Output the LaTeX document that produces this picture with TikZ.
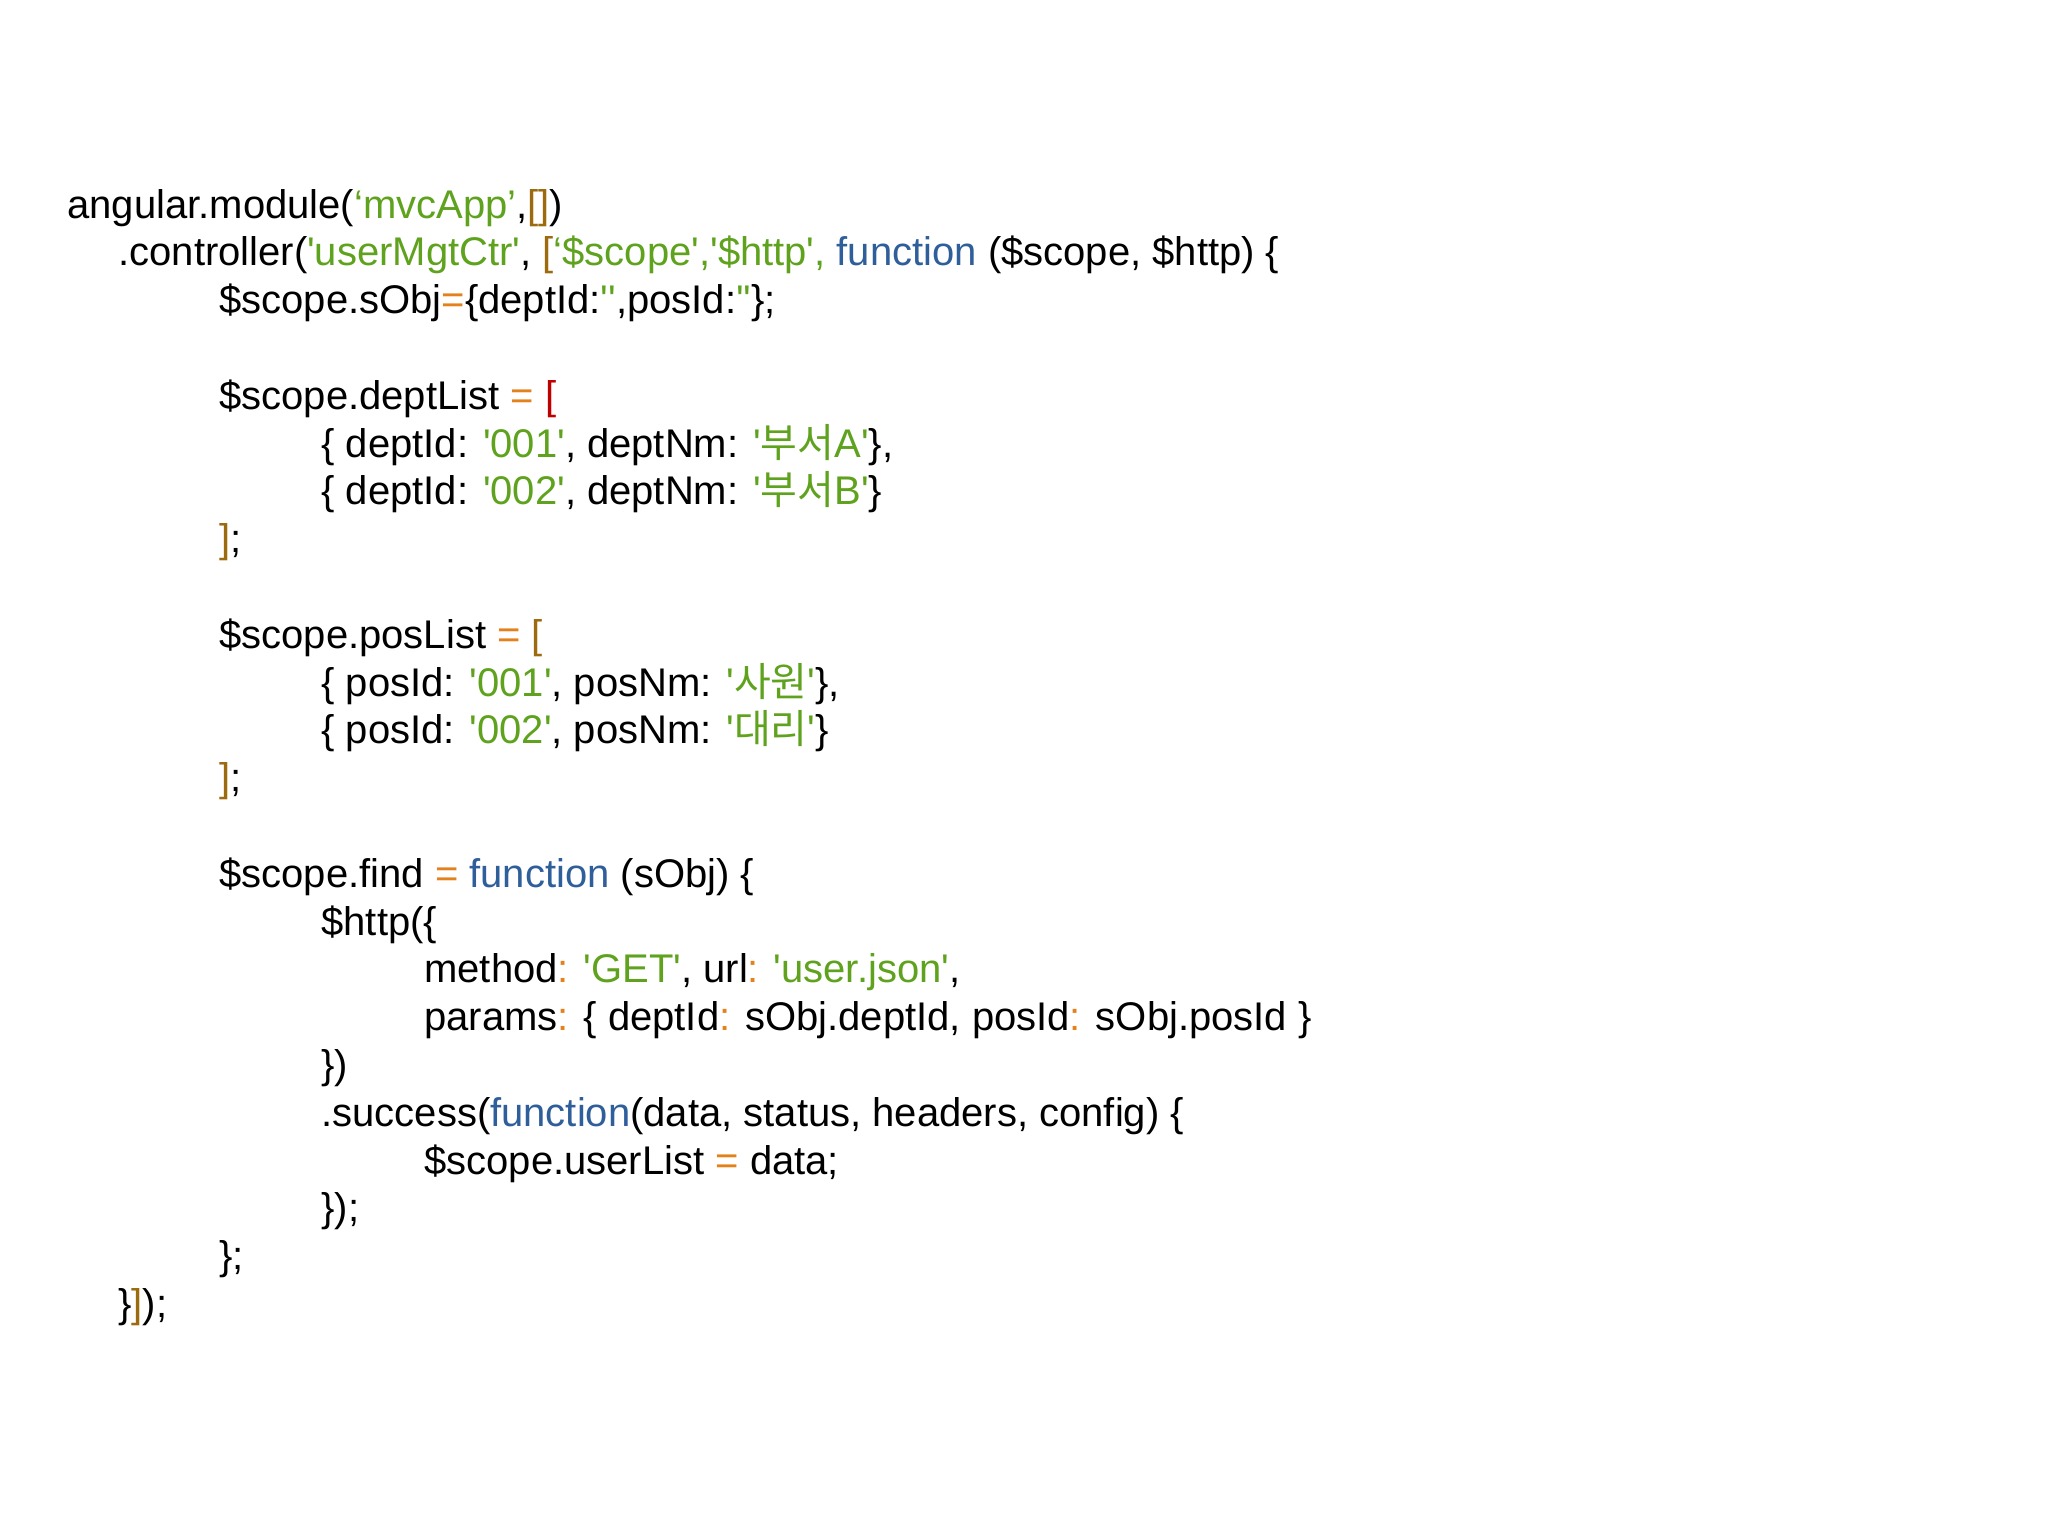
\documentclass[tikz,border=0pt]{standalone}
\usepackage{fontspec}
\setmainfont{Liberation Sans}[Ligatures=TeXOff]
\newfontfamily\kr{Noto Sans CJK KR}
\definecolor{cgreen}{HTML}{5FA21E}
\definecolor{cblue}{HTML}{2F5F9A}
\definecolor{corange}{HTML}{E3821C}
\definecolor{cbrown}{HTML}{9C6B10}
\definecolor{cred}{HTML}{C00000}
\newcommand\colG[1]{\textcolor{cgreen}{#1}}
\newcommand\colB[1]{\textcolor{cblue}{#1}}
\newcommand\colO[1]{\textcolor{corange}{#1}}
\newcommand\colY[1]{\textcolor{cbrown}{#1}}
\newcommand\colR[1]{\textcolor{cred}{#1}}
\begin{document}
\begin{tikzpicture}[x=0.5pt,y=-0.5pt,
  codeline/.style={anchor=base west,inner sep=0pt,font=\fontsize{20}{24}\selectfont}]
\fill[white] (0,0) rectangle (2048,1536);
\useasboundingbox (0,0) rectangle (2048,1536);
\def\yy#1{218+47.8*#1}
\node[codeline] (l0) at (67,{\yy{0}}) {angular.module(\colG{‘mvcApp’},\colY{[]})};
\node[codeline] (l1) at (118,{\yy{1}}) {.controller(\colG{'userMgtCtr'}, \colY{[}\colG{‘\$scope','\$http',} \colB{function} (\$scope, \$http) \{};
\node[codeline] (l2) at (219,{\yy{2}}) {\$scope.sObj\colO{=}\{deptId:\colG{''},posId:\colG{''}\};};
\node[codeline] (l4) at (219,{\yy{4}}) {\$scope.deptList \colO{=} \colR{[}};
\node[codeline] (l5) at (321,{\yy{5}}) {\{ deptId: \colG{'001'}, deptNm: \colG{'{\kr 부서}A'}\},};
\node[codeline] (l6) at (321,{\yy{6}}) {\{ deptId: \colG{'002'}, deptNm: \colG{'{\kr 부서}B'}\}};
\node[codeline] (l7) at (219,{\yy{7}}) {\colY{]};};
\node[codeline] (l9) at (219,{\yy{9}}) {\$scope.posList \colO{=} \colY{[}};
\node[codeline] (l10) at (321,{\yy{10}}) {\{ posId: \colG{'001'}, posNm: \colG{'{\kr 사원}'}\},};
\node[codeline] (l11) at (321,{\yy{11}}) {\{ posId: \colG{'002'}, posNm: \colG{'{\kr 대리}'}\}};
\node[codeline] (l12) at (219,{\yy{12}}) {\colY{]};};
\node[codeline] (l14) at (219,{\yy{14}}) {\$scope.find \colO{=} \colB{function} (sObj) \{};
\node[codeline] (l15) at (321,{\yy{15}}) {\$http(\{};
\node[codeline] (l16) at (424,{\yy{16}}) {method\colO{:} \colG{'GET'}, url\colO{:} \colG{'user.json'},};
\node[codeline] (l17) at (424,{\yy{17}}) {params\colO{:} \{ deptId\colO{:} sObj.deptId, posId\colO{:} sObj.posId \}};
\node[codeline] (l18) at (321,{\yy{18}}) {\})};
\node[codeline] (l19) at (321,{\yy{19}}) {.success(\colB{function}(data, status, headers, config) \{};
\node[codeline] (l20) at (424,{\yy{20}}) {\$scope.userList \colO{=} data;};
\node[codeline] (l21) at (321,{\yy{21}}) {\});};
\node[codeline] (l22) at (219,{\yy{22}}) {\};};
\node[codeline] (l23) at (118,{\yy{23}}) {\}\colY{]});};
\end{tikzpicture}
\end{document}
